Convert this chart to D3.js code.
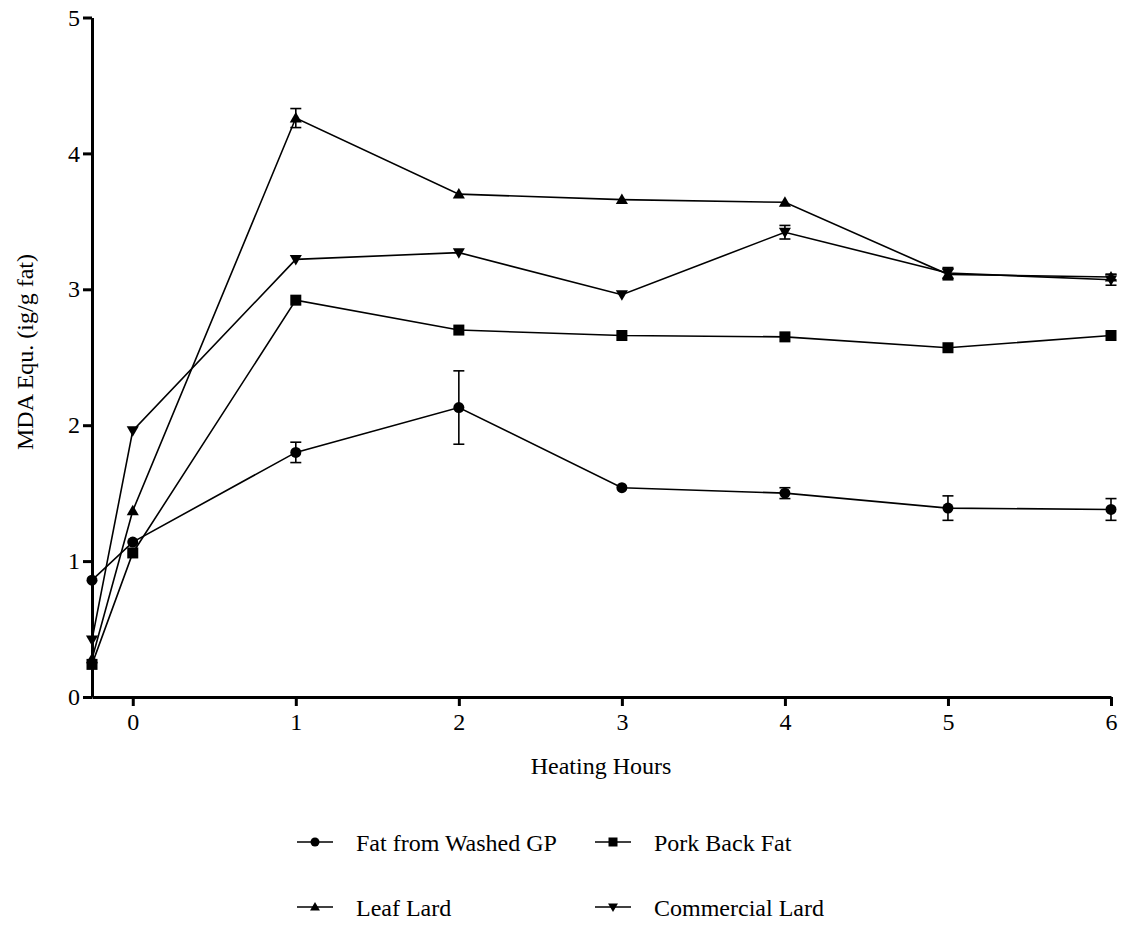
<!DOCTYPE html>
<html>
<head>
<meta charset="utf-8">
<script src="https://cdn.jsdelivr.net/npm/d3@7"></script>
<style>
  body { margin: 0; background: #fff; }
  svg text { font-family: "Liberation Serif", "Times New Roman", serif; fill: #000; }
</style>
</head>
<body>
<script>
var width = 1125,
    height = 926;

// heating hours (-0.25 = before heating, sits on the axis)
var hours = [-0.25, 0, 1, 2, 3, 4, 5, 6];
var xTicks = [0, 1, 2, 3, 4, 5, 6];
var yTicks = [0, 1, 2, 3, 4, 5];

var names = ["Fat from Washed GP", "Pork Back Fat", "Leaf Lard", "Commercial Lard"];
var symbols = ["circle", "square", "up", "down"];

var washedGP = [0.86, 1.14, 1.80, 2.13, 1.54, 1.50, 1.39, 1.38];
var washedGPErr = [0, 0, 0.075, 0.27, 0, 0.04, 0.09, 0.08];
var porkBack = [0.24, 1.06, 2.92, 2.70, 2.66, 2.65, 2.57, 2.66];
var porkBackErr = [0, 0, 0, 0, 0, 0, 0, 0];
var leafLard = [0.28, 1.37, 4.26, 3.70, 3.66, 3.64, 3.11, 3.09];
var leafLardErr = [0, 0, 0.07, 0, 0, 0, 0.04, 0.02];
var commLard = [0.42, 1.96, 3.22, 3.27, 2.96, 3.42, 3.12, 3.07];
var commLardErr = [0, 0, 0, 0, 0, 0.05, 0.04, 0.04];

var series = [
  { name: names[0], sym: symbols[0], values: washedGP, err: washedGPErr },
  { name: names[1], sym: symbols[1], values: porkBack, err: porkBackErr },
  { name: names[2], sym: symbols[2], values: leafLard, err: leafLardErr },
  { name: names[3], sym: symbols[3], values: commLard, err: commLardErr }
];

var x = d3.scaleLinear().domain([-0.25, 6]).range([92, 1111]);
var y = d3.scaleLinear().domain([0, 5]).range([697, 17.5]);

var svg = d3.select("body").append("svg")
    .attr("width", width)
    .attr("height", height);

// axes
var xAxis = svg.append("g")
    .attr("transform", "translate(0," + y(0) + ")")
    .call(d3.axisBottom(x).tickValues(xTicks).tickFormat(d3.format("d"))
        .tickSize(9).tickSizeOuter(0).tickPadding(7));
var yAxis = svg.append("g")
    .attr("transform", "translate(" + x(-0.25) + ",0)")
    .call(d3.axisLeft(y).tickValues(yTicks).tickFormat(d3.format("d"))
        .tickSize(9).tickSizeOuter(0).tickPadding(3));

[xAxis, yAxis].forEach(function (a) {
  a.attr("font-family", null).attr("font-size", null);
  a.select(".domain").attr("stroke-width", 3);
  a.selectAll(".tick line").attr("stroke-width", 3);
  a.selectAll("text").style("font-size", "24px");
});

svg.append("text")
    .attr("x", 601).attr("y", 774)
    .attr("text-anchor", "middle")
    .style("font-size", "24px")
    .text("Heating Hours");

svg.append("text")
    .attr("transform", "translate(33,352) rotate(-90)")
    .attr("text-anchor", "middle")
    .style("font-size", "24px")
    .text("MDA Equ. (ig/g fat)");

// marker shapes
function marker(sel, sym, s) {
  if (sym == "circle") {
    sel.append("circle").attr("r", s * 0.5).attr("fill", "#000");
  } else if (sym == "square") {
    sel.append("rect").attr("x", -s / 2).attr("y", -s / 2)
        .attr("width", s).attr("height", s).attr("fill", "#000");
  } else if (sym == "up") {
    sel.append("path").attr("d", "M0," + (-s * 0.55) + "L" + (s * 0.55) + "," + (s * 0.4) + "L" + (-s * 0.55) + "," + (s * 0.4) + "Z").attr("fill", "#000");
  } else {
    sel.append("path").attr("d", "M0," + (s * 0.55) + "L" + (s * 0.55) + "," + (-s * 0.4) + "L" + (-s * 0.55) + "," + (-s * 0.4) + "Z").attr("fill", "#000");
  }
}

var line = d3.line()
    .x(function (d) { return x(d.h); })
    .y(function (d) { return y(d.v); });

series.forEach(function (s) {
  var pts = hours.map(function (h, i) { return { h: h, v: s.values[i], e: s.err[i] }; });
  var g = svg.append("g");

  g.append("path")
      .datum(pts)
      .attr("fill", "none")
      .attr("stroke", "#000")
      .attr("stroke-width", 1.6)
      .attr("d", line);

  // error bars
  pts.filter(function (d) { return d.e > 0; }).forEach(function (d) {
    var eb = g.append("g").attr("stroke", "#000").attr("stroke-width", 1.6);
    eb.append("line").attr("x1", x(d.h)).attr("x2", x(d.h)).attr("y1", y(d.v - d.e)).attr("y2", y(d.v + d.e));
    eb.append("line").attr("x1", x(d.h) - 5.5).attr("x2", x(d.h) + 5.5).attr("y1", y(d.v - d.e)).attr("y2", y(d.v - d.e));
    eb.append("line").attr("x1", x(d.h) - 5.5).attr("x2", x(d.h) + 5.5).attr("y1", y(d.v + d.e)).attr("y2", y(d.v + d.e));
  });

  pts.forEach(function (d) {
    var m = g.append("g").attr("transform", "translate(" + x(d.h) + "," + y(d.v) + ")");
    marker(m, s.sym, 11);
  });
});

// legend
var legX = [297, 595],
    legY = [842, 907];
series.forEach(function (s, i) {
  var lx = legX[i % 2], ly = legY[Math.floor(i / 2)];
  var lg = svg.append("g").attr("transform", "translate(" + lx + "," + ly + ")");
  lg.append("line").attr("x1", 0).attr("x2", 36).attr("stroke", "#000").attr("stroke-width", 1.6);
  var m = lg.append("g").attr("transform", "translate(18,0)");
  marker(m, s.sym, 9);
  lg.append("text").attr("x", 59).attr("y", 8.5)
      .style("font-size", "24px")
      .text(s.name);
});
</script>
</body>
</html>
